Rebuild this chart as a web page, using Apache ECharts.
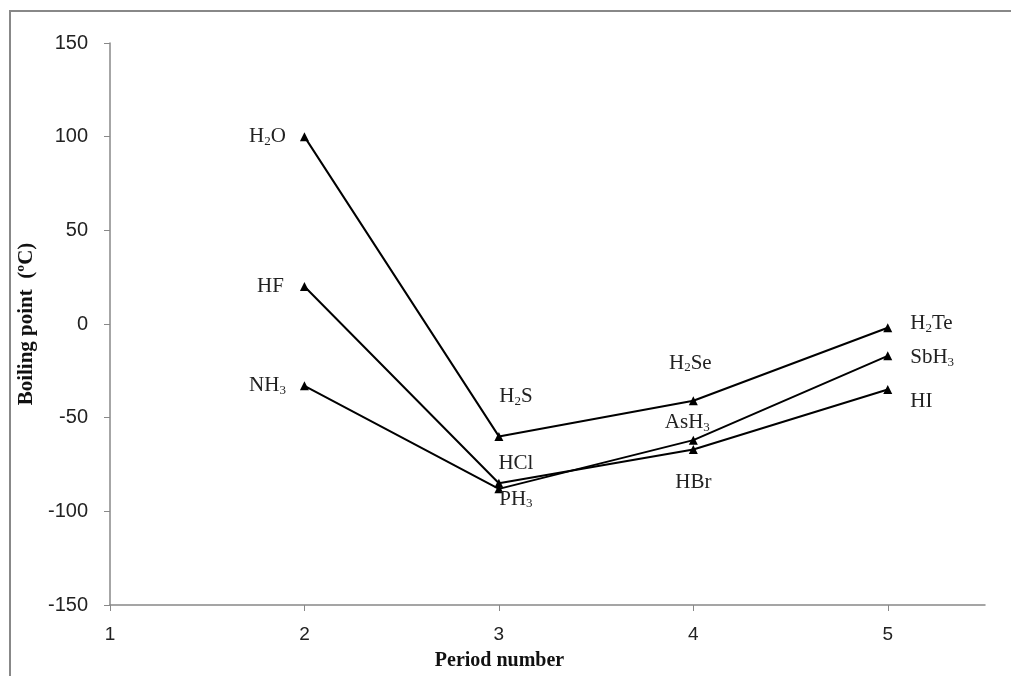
<!DOCTYPE html>
<html>
<head>
<meta charset="utf-8">
<script src="https://cdn.jsdelivr.net/npm/echarts@6/dist/echarts.min.js"></script>
<style>
  html, body { margin: 0; padding: 0; background: #fff; }
  #chart { width: 1011px; height: 676px; }
</style>
</head>
<body>
<div id="chart"></div>
<script>
var periods = [2, 3, 4, 5];
var group16Names = ['H2O', 'H2S', 'H2Se', 'H2Te'];
var group16Values = [100, -60, -41, -2];
var group17Names = ['HF', 'HCl', 'HBr', 'HI'];
var group17Values = [20, -85, -67, -35];
var group15Names = ['NH3', 'PH3', 'AsH3', 'SbH3'];
var group15Values = [-33, -88, -62, -17];
var xTicks = [1, 2, 3, 4, 5];

// label placement for each point: [position, distance, offset]
var group16Labels = [['left', 14, [0, 0]], ['top', 24, [17, 0]], ['top', 22, [-3, 0]], ['right', 18, [0, -4]]];
var group17Labels = [['left', 16, [0, 0]], ['top', 5, [17, 0]], ['bottom', 18, [0, 0]], ['right', 18, [0, 12]]];
var group15Labels = [['left', 14, [0, 0]], ['bottom', 0, [17, -5]], ['top', 2, [-6, 0]], ['right', 18, [0, 2]]];

var richStyle = {
	s: { fontSize: 13, fontFamily: 'Liberation Serif', color: '#222', padding: [9, 0, 0, 0] }
};

var toRich = function(name){
	return name.replace(/(\d)/g, '{s|$1}');
};

var buildData = function(names, values, labels){
	var out = [];
	for (var i = 0; i < values.length; i++) {
		out.push({
			value: [periods[i], values[i]],
			name: names[i],
			label: {
				show: true,
				position: labels[i][0],
				distance: labels[i][1],
				offset: labels[i][2],
				formatter: toRich(names[i]),
				fontSize: 21,
				fontFamily: 'Liberation Serif',
				color: '#222',
				rich: richStyle
			}
		});
	}
	return out;
};

var makeSeries = function(names, values, labels){
	return {
		type: 'line',
		data: buildData(names, values, labels),
		symbol: 'triangle',
		symbolSize: 9,
		lineStyle: { color: '#000', width: 2 },
		itemStyle: { color: '#000' },
		animation: false
	};
};

var myChart = echarts.init(document.getElementById('chart'));
var option = {
	backgroundColor: '#fff',
	grid: { left: 110, right: 26, top: 43, bottom: 69 },
	xAxis: {
		type: 'value',
		min: 1,
		max: 5.5,
		interval: 1,
		name: 'Period number',
		nameLocation: 'middle',
		nameGap: 46,
		nameTextStyle: { fontFamily: 'Liberation Serif', fontWeight: 'bold', fontSize: 20, color: '#111', padding: [0, 96, 0, 0] },
		axisLine: { onZero: false, lineStyle: { color: '#888', width: 1.5 } },
		axisTick: { show: true, inside: false, length: 6, customValues: xTicks, lineStyle: { color: '#888' } },
		axisLabel: { customValues: xTicks, margin: 20, fontFamily: 'Liberation Sans', fontSize: 19, color: '#222' },
		splitLine: { show: false }
	},
	yAxis: {
		type: 'value',
		min: -150,
		max: 150,
		interval: 50,
		name: 'Boiling point  (ºC)',
		nameLocation: 'middle',
		nameGap: 70,
		nameTextStyle: { fontFamily: 'Liberation Serif', fontWeight: 'bold', fontSize: 21, color: '#111' },
		axisLine: { show: true, onZero: false, lineStyle: { color: '#888', width: 1.5 } },
		axisTick: { show: true, inside: false, length: 6, lineStyle: { color: '#888' } },
		axisLabel: { margin: 22, fontFamily: 'Liberation Sans', fontSize: 20, color: '#222' },
		splitLine: { show: false }
	},
	graphic: [{
		type: 'polyline',
		shape: { points: [[10, 676], [10, 11], [1011, 11]] },
		style: { stroke: '#888', lineWidth: 2, fill: null }
	}],
	series: [
		makeSeries(group16Names, group16Values, group16Labels),
		makeSeries(group17Names, group17Values, group17Labels),
		makeSeries(group15Names, group15Values, group15Labels)
	]
};
myChart.setOption(option);
window.onresize = function(){
	myChart.resize();
};
</script>
</body>
</html>
